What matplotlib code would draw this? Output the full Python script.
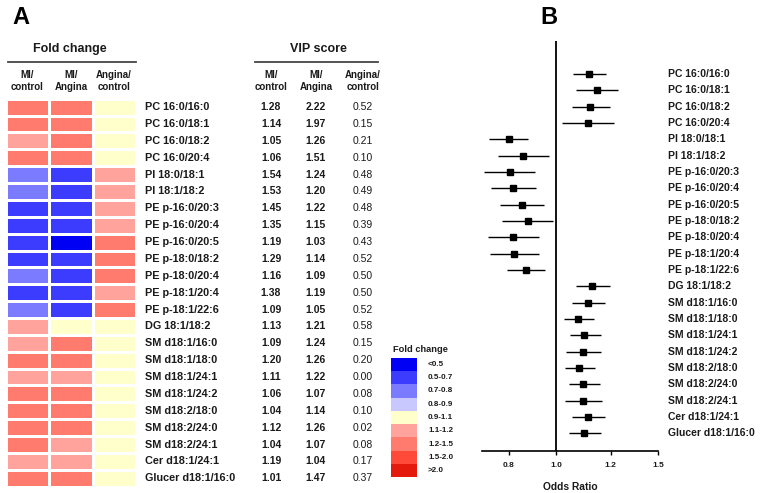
import numpy as np
import matplotlib
matplotlib.use("Agg")
import matplotlib.pyplot as plt
from matplotlib.colors import ListedColormap, BoundaryNorm
from matplotlib import transforms

plt.rcParams['font.family'] = ['Liberation Sans', 'DejaVu Sans']

# ---------------- data ----------------
lipids = ["PC 16:0/16:0", "PC 16:0/18:1", "PC 16:0/18:2", "PC 16:0/20:4",
          "PI 18:0/18:1", "PI 18:1/18:2", "PE p-16:0/20:3", "PE p-16:0/20:4",
          "PE p-16:0/20:5", "PE p-18:0/18:2", "PE p-18:0/20:4", "PE p-18:1/20:4",
          "PE p-18:1/22:6", "DG 18:1/18:2", "SM d18:1/16:0", "SM d18:1/18:0",
          "SM d18:1/24:1", "SM d18:1/24:2", "SM d18:2/18:0", "SM d18:2/24:0",
          "SM d18:2/24:1", "Cer d18:1/24:1", "Glucer d18:1/16:0"]

fc_columns = ["MI/\ncontrol", "MI/\nAngina", "Angina/\ncontrol"]
fc_mi_control = [1.3, 1.3, 1.15, 1.3, 0.75, 0.75, 0.6, 0.6, 0.6, 0.6, 0.75, 0.6, 0.75,
                 1.15, 1.15, 1.3, 1.15, 1.3, 1.3, 1.3, 1.3, 1.15, 1.3]
fc_mi_angina = [1.3, 1.3, 1.3, 1.3, 0.6, 0.6, 0.6, 0.6, 0.45, 0.6, 0.6, 0.6, 0.6,
                1.0, 1.3, 1.3, 1.15, 1.3, 1.3, 1.3, 1.15, 1.15, 1.3]
fc_angina_control = [1.0, 1.0, 1.0, 1.0, 1.15, 1.15, 1.15, 1.15, 1.3, 1.3, 1.3, 1.15, 1.3,
                     1.0, 1.0, 1.0, 1.0, 1.0, 1.0, 1.0, 1.0, 1.0, 1.0]

vip_mi_control = [1.28, 1.14, 1.05, 1.06, 1.54, 1.53, 1.45, 1.35, 1.19, 1.29, 1.16, 1.38,
                  1.09, 1.13, 1.09, 1.20, 1.11, 1.06, 1.04, 1.12, 1.04, 1.19, 1.01]
vip_mi_angina = [2.22, 1.97, 1.26, 1.51, 1.24, 1.20, 1.22, 1.15, 1.03, 1.14, 1.09, 1.19,
                 1.05, 1.21, 1.24, 1.26, 1.22, 1.07, 1.14, 1.26, 1.07, 1.04, 1.47]
vip_angina_control = [0.52, 0.15, 0.21, 0.10, 0.48, 0.49, 0.48, 0.39, 0.43, 0.52, 0.50, 0.50,
                      0.52, 0.58, 0.15, 0.20, 0.00, 0.08, 0.10, 0.02, 0.08, 0.17, 0.37]

legend_labels = ["<0.5", "0.5-0.7", "0.7-0.8", "0.8-0.9", "0.9-1.1",
                 "1.1-1.2", "1.2-1.5", "1.5-2.0", ">2.0"]
legend_values = [0.45, 0.6, 0.75, 0.85, 1.0, 1.15, 1.3, 1.7, 2.5]
fc_bounds = [0, 0.5, 0.7, 0.8, 0.9, 1.1, 1.2, 1.5, 2.0, 10]
fc_colors = ["#0000F5", "#3C3CFF", "#7B7BFF", "#C8C8FF", "#FFFFCC",
             "#FFA39C", "#FF7B6E", "#FF4A3A", "#E41A0C"]

or_est = [1.119, 1.149, 1.125, 1.115, 0.799, 0.860, 0.803, 0.818, 0.854, 0.879, 0.815, 0.821,
          0.870, 1.132, 1.116, 1.079, 1.103, 1.098, 1.085, 1.100, 1.097, 1.115, 1.102]
or_low = [1.061, 1.073, 1.058, 1.022, 0.717, 0.754, 0.696, 0.725, 0.763, 0.772, 0.710, 0.720,
          0.790, 1.071, 1.056, 1.028, 1.050, 1.036, 1.033, 1.047, 1.033, 1.056, 1.046]
or_high = [1.183, 1.248, 1.196, 1.223, 0.881, 0.970, 0.910, 0.913, 0.948, 0.986, 0.925, 0.925,
           0.952, 1.196, 1.181, 1.138, 1.163, 1.165, 1.143, 1.159, 1.169, 1.181, 1.165]
or_ticks = [0.8, 1.0, 1.2, 1.5]

# ---------------- figure ----------------
W, H = 760, 493
fig = plt.figure(figsize=(W / 100, H / 100), dpi=100)
TXT = "#1a1a1a"

def fax(x0, y0, x1, y1):
    return fig.add_axes([x0 / W, 1 - y1 / H, (x1 - x0) / W, (y1 - y0) / H])

# overlay axes in pixel coords
ov = fig.add_axes([0, 0, 1, 1])
ov.set_xlim(0, W)
ov.set_ylim(H, 0)
ov.axis("off")

cmap = ListedColormap(fc_colors)
norm = BoundaryNorm(fc_bounds, cmap.N)

# heatmap
n = len(lipids)
ax_hm = fax(6, 98.7, 136, 486.7)
fc = np.column_stack([fc_mi_control, fc_mi_angina, fc_angina_control])
ax_hm.pcolormesh(np.arange(4), np.arange(n + 1), fc, cmap=cmap, norm=norm,
                 edgecolors="white", linewidth=0.9)
ax_hm.set_xlim(0, 3)
ax_hm.set_ylim(n, 0)
ax_hm.axis("off")

tr = transforms.blended_transform_factory(ov.transData, ax_hm.transData)
for i, name in enumerate(lipids):
    yc = i + 0.5
    ov.text(145, yc, name, transform=tr, ha="left", va="center",
            fontsize=7.8, fontweight="bold", color=TXT)
    ov.text(271, yc, f"{vip_mi_control[i]:.2f}", transform=tr, ha="center", va="center",
            fontsize=7.5, fontweight="bold", color=TXT)
    ov.text(316, yc, f"{vip_mi_angina[i]:.2f}", transform=tr, ha="center", va="center",
            fontsize=7.5, fontweight="bold", color=TXT)
    ov.text(363, yc, f"{vip_angina_control[i]:.2f}", transform=tr, ha="center", va="center",
            fontsize=7.5, color=TXT)

# headers
ov.text(70, 49, "Fold change", ha="center", va="center", fontsize=9, fontweight="bold", color=TXT)
ov.plot([8, 136], [62, 62], color="#444444", lw=1.3)
ov.text(318, 49, "VIP score", ha="center", va="center", fontsize=9, fontweight="bold", color=TXT)
ov.plot([255, 378], [62, 62], color="#444444", lw=1.3)
for xc, lab in zip([27.5, 71, 114], fc_columns):
    ov.text(xc, 81, lab, ha="center", va="center", fontsize=7, fontweight="bold",
            color=TXT, linespacing=1.25)
for xc, lab in zip([271, 316, 363], fc_columns):
    ov.text(xc, 81, lab, ha="center", va="center", fontsize=7, fontweight="bold",
            color=TXT, linespacing=1.25)

ov.text(12, 17, "A", ha="left", va="center", fontsize=17, fontweight="bold", color="black")
ov.text(540, 17, "B", ha="left", va="center", fontsize=17, fontweight="bold", color="black")

# legend
ov.text(393, 350, "Fold change", ha="left", va="center", fontsize=6.7, fontweight="bold", color=TXT)
ax_lg = fax(391, 357.6, 417, 477.3)
ax_lg.pcolormesh(np.array([0, 1]), np.arange(len(legend_values) + 1),
                 np.array(legend_values)[:, None], cmap=cmap, norm=norm)
ax_lg.set_xlim(0, 1)
ax_lg.set_ylim(len(legend_values), 0)
ax_lg.axis("off")
trl = transforms.blended_transform_factory(ov.transData, ax_lg.transData)
for i, lab in enumerate(legend_labels):
    ov.text(428, i + 0.5, lab, transform=trl, ha="left", va="center",
            fontsize=5.8, fontweight="bold", color=TXT)

# forest plot
px_pts = [0.5, 0.8, 1.0, 1.2, 1.5, 2.0]
px_pos = [-120, -48, 0, 55, 103, 183]
fwd = lambda x: np.interp(x, px_pts, px_pos)
inv = lambda p: np.interp(p, px_pos, px_pts)

ax_f = fax(482, 41, 658, 451)
ax_f.set_xscale("function", functions=(fwd, inv))
yy = np.arange(n)
est = np.array(or_est)
ax_f.errorbar(est, yy, xerr=[est - np.array(or_low), np.array(or_high) - est],
              fmt="s", color="black", ms=5, elinewidth=1.0, capsize=0)
ax_f.axvline(1.0, color="black", lw=1.3)
ax_f.set_xlim(0.686, 1.5)
ax_f.set_ylim(n + 0.08, -2.02)
for s in ["top", "right", "left"]:
    ax_f.spines[s].set_visible(False)
ax_f.spines["bottom"].set_linewidth(1.2)
ax_f.set_yticks([])
ax_f.set_xticks(or_ticks)
ax_f.set_xticklabels([f"{t:.1f}" for t in or_ticks], fontsize=6, fontweight="bold", color=TXT)
ax_f.xaxis.set_minor_locator(matplotlib.ticker.NullLocator())
ax_f.tick_params(axis="x", length=3, width=1, pad=5)
ax_f.set_xlabel("Odds Ratio", fontsize=7.4, fontweight="bold", color=TXT, labelpad=9)

trf = transforms.blended_transform_factory(ov.transData, ax_f.transData)
for i, name in enumerate(lipids):
    ov.text(668, i, name, transform=trf, ha="left", va="center",
            fontsize=7.5, fontweight="bold", color=TXT)

fig.savefig("out.png", dpi=100)
